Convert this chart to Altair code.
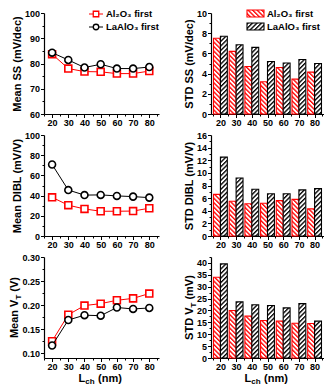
import math
import urllib.parse
import altair as alt
import pandas as pd

# ---------------- data ----------------
L = [20, 30, 40, 50, 60, 70, 80]
SERIES = ["Al₂O₃ first", "LaAlO₃ first"]

mean_ss_al = [83.7, 78.0, 76.8, 76.7, 76.0, 76.0, 77.0]
mean_ss_la = [84.3, 81.4, 78.4, 79.7, 78.0, 78.0, 78.6]
std_ss_al = [7.5, 6.2, 4.7, 3.2, 4.6, 3.45, 4.15]
std_ss_la = [7.7, 6.85, 6.6, 5.2, 5.05, 5.4, 5.0]
mean_dibl_al = [38.3, 30.5, 26.8, 24.5, 24.5, 24.7, 27.5]
mean_dibl_la = [70.8, 45.5, 40.5, 40.7, 39.7, 39.0, 38.0]
std_dibl_al = [6.6, 5.5, 5.1, 5.2, 5.6, 5.8, 4.3]
std_dibl_la = [12.5, 9.2, 7.4, 6.7, 6.7, 7.3, 7.5]
mean_vt_al = [0.125, 0.180, 0.199, 0.203, 0.210, 0.214, 0.224]
mean_vt_la = [0.116, 0.169, 0.179, 0.178, 0.195, 0.192, 0.194]
std_vt_al = [34.0, 20.0, 17.6, 15.8, 15.5, 14.6, 14.5]
std_vt_la = [39.6, 23.6, 22.4, 22.1, 21.1, 22.9, 15.5]

FONT = "Liberation Sans"
H = 101
WL = 115
WR = 113
RED = "#ff0000"
BLK = "#000000"


def ticks(dmin, dmax, step):
    start = math.ceil(dmin / step - 1e-9)
    end = math.floor(dmax / step + 1e-9)
    return [round(i * step, 6) for i in range(start, end + 1)]


def make_axis(title, dom, major, minor, fmt):
    test = f"abs(datum.value/{major} - round(datum.value/{major})) < 1e-6"
    return alt.Axis(
        title=title,
        values=ticks(dom[0], dom[1], minor),
        format=fmt,
        labelExpr=f"({test}) ? datum.label : ''",
        tickSize={"condition": {"test": test, "value": 3.5}, "value": 2},
        labelOverlap=False,
        labelFlush=False,
    )


def hatch_url(color, angle):
    svg = (
        "<svg xmlns='http://www.w3.org/2000/svg'><defs>"
        f"<pattern id='p' width='3.2' height='3.2' patternUnits='userSpaceOnUse' patternTransform='rotate({angle})'>"
        f"<rect width='1.35' height='3.2' fill='{color}'/></pattern></defs>"
        "<rect width='100%' height='100%' fill='white'/>"
        "<rect width='100%' height='100%' fill='url(#p)'/></svg>"
    )
    return "data:image/svg+xml;charset=utf-8," + urllib.parse.quote(svg)


HATCH = [hatch_url(RED, -45), hatch_url(BLK, 45)]
COLS = [RED, BLK]
ONE = pd.DataFrame({"o": [0]})


def txt(x, y, s, size=11, align="left", baseline="alphabetic", angle=0):
    return alt.Chart(ONE).mark_text(
        font=FONT, fontWeight="bold", fontSize=size, align=align,
        baseline=baseline, angle=angle, color="black"
    ).encode(x=alt.value(x), y=alt.value(y), text=alt.value(s))


def lch_title(W):
    start = W / 2 - 23
    return [
        txt(start, H + 23.5, "L"),
        txt(start + 6.8, H + 26, "ch", size=8),
        txt(start + 19.5, H + 23.5, "(nm)"),
    ]


def vt_title(xpos, prefix, suffix, wpre, wsuf):
    total = wpre + 4.9 + 3 + wsuf
    P = H / 2 + total / 2 - wpre
    return [
        txt(xpos, P, prefix, align="right", baseline="bottom", angle=270),
        txt(xpos + 3, P, "T", size=8, align="left", baseline="bottom", angle=270),
        txt(xpos, P - 4.9 - 3, suffix, align="left", baseline="bottom", angle=270),
    ]


def long_df(al, la):
    return pd.DataFrame({"L": L * 2, "v": al + la, "k": [0] * 7 + [1] * 7})


def line_panel(al, la, ytitle, dom, major, minor, fmt, legend=False, bottom=False, extra=None):
    xd = [15, 86]
    base = alt.Chart(long_df(al, la)).encode(
        x=alt.X("L:Q", scale=alt.Scale(domain=xd, nice=False, zero=False),
                axis=make_axis("", xd, 10, 5, "d")),
        y=alt.Y("v:Q", scale=alt.Scale(domain=dom, nice=False, zero=False),
                axis=make_axis(ytitle, dom, major, minor, fmt)),
    )
    layers = []
    for k, shape in [(0, "square"), (1, "circle")]:
        sub = base.transform_filter(f"datum.k == {k}")
        layers.append(sub.mark_line(color=COLS[k], strokeWidth=1))
        layers.append(sub.mark_point(shape=shape, filled=True, fill="white", stroke=COLS[k],
                                     strokeWidth=1.6, size=48, opacity=1))
    if legend:
        for k, shape in [(0, "square"), (1, "circle")]:
            yy = 1 + 13 * k
            layers.append(alt.Chart(ONE).mark_rule(color=COLS[k], strokeWidth=1).encode(
                x=alt.value(45), x2=alt.value(59), y=alt.value(yy)))
            layers.append(alt.Chart(ONE).mark_point(shape=shape, filled=True, fill="white",
                                                    stroke=COLS[k], strokeWidth=1.3, size=30,
                                                    opacity=1).encode(
                x=alt.value(52), y=alt.value(yy)))
            layers.append(txt(62, yy, SERIES[k], size=9.5, baseline="middle"))
    if bottom:
        layers += lch_title(WL)
    if extra:
        layers += extra
    return alt.layer(*layers).properties(width=WL, height=H)


def bar_panel(al, la, ytitle, dom, major, minor, fmt, legend=False, bottom=False, extra=None):
    xd = [14, 86]
    base = alt.Chart(long_df(al, la)).transform_calculate(
        x0="datum.L + (datum.k - 1) * 4.4", x1="datum.L + datum.k * 4.4", zero="0"
    ).encode(
        x=alt.X("x0:Q", scale=alt.Scale(domain=xd, nice=False, zero=False),
                axis=make_axis("", xd, 10, 5, "d")),
        x2="x1:Q",
        y=alt.Y("v:Q", scale=alt.Scale(domain=dom, nice=False, zero=False),
                axis=make_axis(ytitle, dom, major, minor, fmt)),
        y2="zero:Q",
    )
    layers = []
    for k in [0, 1]:
        sub = base.transform_filter(f"datum.k == {k}")
        layers.append(sub.mark_image(aspect=False).encode(url=alt.value(HATCH[k])))
        layers.append(sub.mark_bar(fillOpacity=0, stroke=COLS[k], strokeWidth=1.1))
    if legend:
        for k in [0, 1]:
            y0 = -3 + 13 * k
            layers.append(alt.Chart(ONE).mark_image(aspect=False).encode(
                x=alt.value(36), x2=alt.value(53), y=alt.value(y0), y2=alt.value(y0 + 7),
                url=alt.value(HATCH[k])))
            layers.append(alt.Chart(ONE).mark_rect(fillOpacity=0, stroke=COLS[k], strokeWidth=1.1).encode(
                x=alt.value(36), x2=alt.value(53), y=alt.value(y0), y2=alt.value(y0 + 7)))
            layers.append(txt(56, y0 + 3.5, SERIES[k], size=9.5, baseline="middle"))
    if bottom:
        layers += lch_title(WR)
    if extra:
        layers += extra
    return alt.layer(*layers).properties(width=WR, height=H)


p1 = line_panel(mean_ss_al, mean_ss_la, "Mean SS (mV/dec)", [60, 100], 10, 5, "d", legend=True)
p2 = bar_panel(std_ss_al, std_ss_la, "STD SS (mV/dec)", [0, 10], 2, 1, "d", legend=True)
p3 = line_panel(mean_dibl_al, mean_dibl_la, "Mean DIBL (mV/V)", [0, 100], 20, 10, "d")
p4 = bar_panel(std_dibl_al, std_dibl_la, "STD DIBL (mV/V)", [0, 16], 2, 1, "d")
p5 = line_panel(mean_vt_al, mean_vt_la, "", [0.09, 0.30], 0.05, 0.025, ".2f", bottom=True,
                extra=vt_title(-24, "Mean V", "(V)", 38.5, 14.7))
p6 = bar_panel(std_vt_al, std_vt_la, "", [0, 42.5], 5, 2.5, "d", bottom=True,
               extra=vt_title(-16.5, "STD V", "(mV)", 32.4, 24.5))

chart = alt.concat(
    p1, p2, p3, p4, p5, p6, columns=2, spacing={"row": 21, "column": 52}, bounds="flush"
).properties(
    padding={"left": 0, "top": 0, "right": 0, "bottom": 0}
).configure_view(stroke=None).configure_axis(
    labelFont=FONT, labelFontWeight="bold", labelFontSize=9, labelColor="black",
    titleFont=FONT, titleFontWeight="bold", titleFontSize=11, titleColor="black",
    domainColor="black", domainWidth=1.2, tickColor="black", tickWidth=1,
    labelPadding=1, titlePadding=2, grid=False,
)

chart.save("out.html", embed_options={"renderer": "svg", "actions": False})
